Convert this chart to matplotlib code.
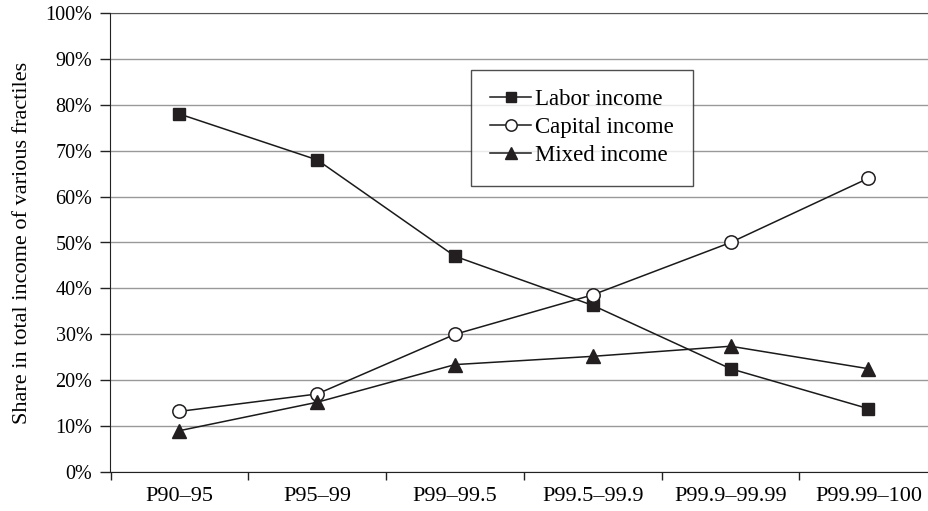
import matplotlib
matplotlib.use('Agg')
import matplotlib.pyplot as plt
import numpy as np

# Categories and values (share of total income, %)
fractiles = ['P90\u201395', 'P95\u201399', 'P99\u201399.5', 'P99.5\u201399.9',
             'P99.9\u201399.99', 'P99.99\u2013100']
labor = [78.0, 68.0, 47.0, 36.3, 22.5, 13.8]
capital = [13.2, 17.0, 30.0, 38.6, 50.0, 64.0]
mixed = [9.0, 15.2, 23.4, 25.2, 27.4, 22.5]
yticks = list(range(0, 101, 10))

plt.rcParams['font.family'] = ['Liberation Serif', 'DejaVu Serif']

fig = plt.figure(figsize=(9.29, 5.11), dpi=100)
W, H = 929, 511
ax = fig.add_axes([110.5 / W, 39 / H, 826.8 / W, 459 / H])

x = np.arange(len(fractiles))
ax.plot(x, labor, color='#1a1a1a', lw=1.1, marker='s', ms=8.8,
        mfc='#231f20', mec='#231f20', label='Labor income', clip_on=False)
ax.plot(x, capital, color='#1a1a1a', lw=1.1, marker='o', ms=9.6,
        mfc='white', mec='#231f20', mew=1.1, label='Capital income', clip_on=False)
ax.plot(x, mixed, color='#1a1a1a', lw=1.1, marker='^', ms=10,
        mfc='#231f20', mec='#231f20', label='Mixed income', clip_on=False)

ax.set_xlim(-0.5, len(fractiles) - 0.5)
ax.set_ylim(0, 100)

# Y axis
ax.set_yticks(yticks)
ax.set_yticklabels([f'{v}%' for v in yticks], fontsize=14.5)
ax.yaxis.grid(True, color='#999999', lw=1.0)
ax.set_axisbelow(True)
ax.set_ylabel('Share in total income of various fractiles', fontsize=16, labelpad=10)

# X axis: labels at centres, ticks on boundaries
ax.set_xticks(x)
ax.set_xticklabels(fractiles, fontsize=16)
ax.tick_params(axis='x', which='major', length=0, pad=11)
ax.set_xticks(np.arange(len(fractiles) + 1) - 0.5, minor=True)
ax.tick_params(axis='x', which='minor', length=6, width=1, color='#222222', direction='out')
ax.tick_params(axis='y', length=7, width=1, color='#222222', direction='out', pad=6)

ax.spines['right'].set_visible(False)
ax.spines['top'].set_color('#555555')
ax.spines['left'].set_color('#222222')
ax.spines['bottom'].set_color('#222222')

leg = ax.legend(loc='upper left', bbox_to_anchor=(0.436, 0.876), borderaxespad=0,
                fontsize=16.5, frameon=True, fancybox=False, handlelength=1.75,
                handletextpad=0.2, labelspacing=0.3, borderpad=0.85, markerscale=0.85)
leg.get_frame().set_edgecolor('#222222')
leg.get_frame().set_linewidth(1.0)

fig.savefig('out.png', dpi=100)
